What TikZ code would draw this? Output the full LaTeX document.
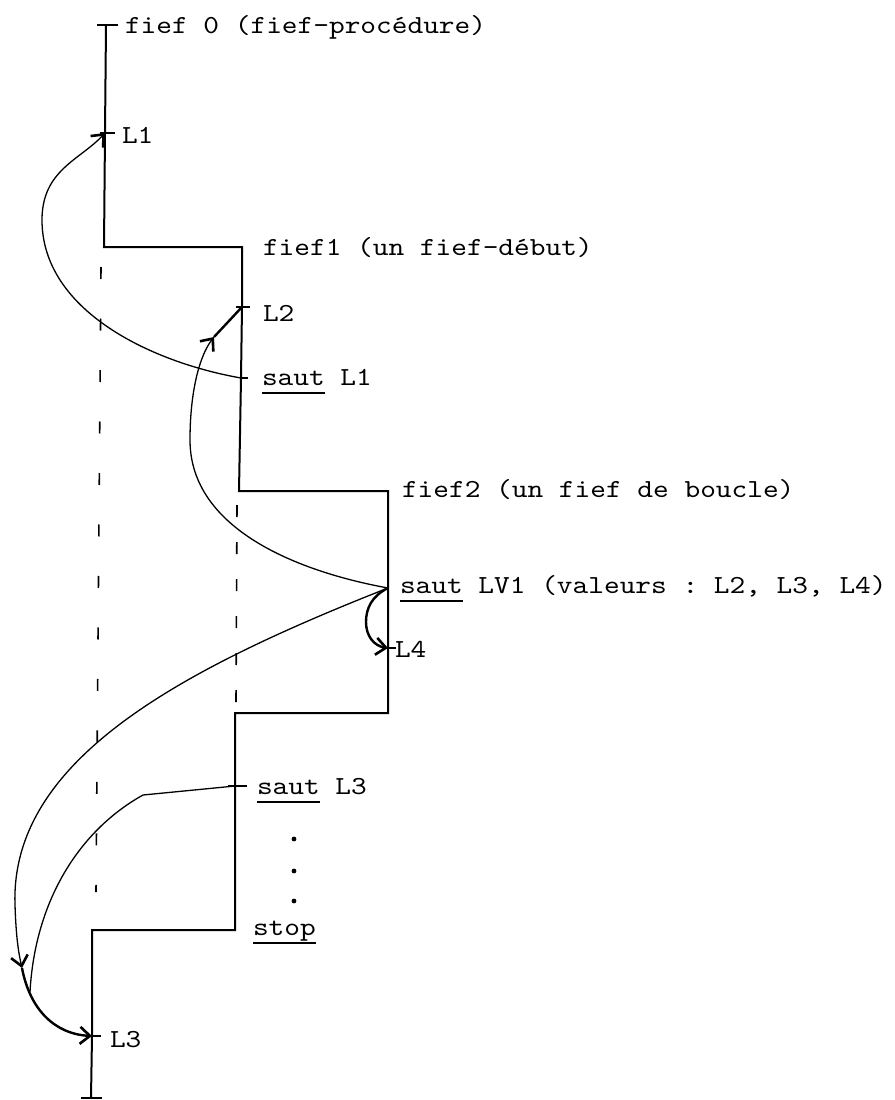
\documentclass[tikz,border=0pt]{standalone}
\usepackage{fontspec}
\newfontfamily\tw{lmmono10-regular}[Extension=.otf, FakeStretch=1.15]
\usetikzlibrary{arrows.meta}
\newcommand\tyul[1]{\setbox0\hbox{#1}\rlap{\rule[-8.5pt]{\wd0}{1.3pt}}\box0\relax}
\frenchspacing
\tikzset{
  every node/.style={inner sep=0pt, outer sep=0pt},
  lbl/.style={anchor=base west, font=\tw\fontsize{26}{30}\selectfont},
  main/.style={line width=2pt, line join=miter},
  tickline/.style={line width=2.2pt},
  curve/.style={line width=1.3pt},
  thickcurve/.style={line width=2.4pt},
  barb/.style={-{Straight Barb[length=10pt,width=17pt,line width=2.6pt]}},
  dshleft/.style={line width=1.6pt, dash pattern=on 12pt off 39.5pt},
  dshmid/.style={line width=1.6pt, dash pattern=on 12pt off 25pt},
}
\begin{document}
\begin{tikzpicture}[x=1pt,y=-1pt]
\useasboundingbox (0,0) rectangle (894,1100);
% key points of the staircase
\coordinate (top) at (106,25);
\coordinate (pL1) at (105,133);
\coordinate (c1) at (104,247);
\coordinate (c2) at (242,247);
\coordinate (pL2) at (242,307);
\coordinate (pS1) at (241,378);
\coordinate (c3) at (239,491);
\coordinate (c4) at (388,491);
\coordinate (pV) at (388,588);
\coordinate (pL4) at (388,648);
\coordinate (c5) at (388,713);
\coordinate (c6) at (235,713);
\coordinate (pS3) at (235,786);
\coordinate (c7) at (235,930);
\coordinate (c8) at (92,930);
\coordinate (pL3) at (92,1036);
\coordinate (bot) at (91,1098);
% helper points on the curves
\coordinate (m1) at (42,220);
\coordinate (m2) at (190,440);
\coordinate (a2) at (214,337);
\coordinate (m3) at (15,905);
\coordinate (a3) at (22,968);
\coordinate (k3) at (143,795);
\coordinate (j3) at (30,992);
\coordinate (m4) at (366,622);

% staircase
\draw[main] (top) -- (pL1) -- (c1) -- (c2) -- (pL2) -- (pS1) -- (c3) -- (c4)
  -- (pV) -- (pL4) -- (c5) -- (c6) -- (pS3) -- (c7) -- (c8) -- (pL3) -- (bot);

% ticks
\draw[tickline] ([xshift=-9pt]top) -- ([xshift=12pt]top);
\draw[tickline] ([xshift=-5pt]pL1) -- ([xshift=10pt]pL1);
\draw[tickline] ([xshift=-6pt]pL2) -- ([xshift=8pt]pL2);
\draw[tickline] (pS1) -- ([xshift=7pt]pS1);
\draw[tickline] ([xshift=-6pt]pL4) -- ([xshift=8pt]pL4);
\draw[tickline] ([xshift=-7pt]pS3) -- ([xshift=12pt]pS3);
\draw[tickline] ([xshift=-4pt]pL3) -- ([xshift=9pt]pL3);
\draw[tickline] ([xshift=-10pt]bot) -- ([xshift=11pt]bot);

% dashed continuations
\draw[dshleft] (101,267) -- (96,892);
\draw[dshmid] (237,505) -- (236,702);

% labels
\node[lbl] (t0) at (125,33) {fief 0 (fief-procédure)};
\node[lbl] (tL1) at (122,143) {L1};
\node[lbl] (t1) at (263,255) {fief1 (un fief-début)};
\node[lbl] (tL2) at (263,321) {L2};
\node[lbl] (tS1) at (262,385) {\tyul{saut} L1};
\node[lbl] (t2) at (402,497) {fief2 (un fief de boucle)};
\node[lbl] (tV) at (400,593) {\tyul{saut} LV1 (valeurs : L2, L3, L4)};
\node[lbl] (tL4) at (395,657) {L4};
\node[lbl] (tS3) at (257,794) {\tyul{saut} L3};
\node[lbl] (tstop) at (253,935) {\tyul{stop}};
\node[lbl] (tL3) at (110,1047) {L3};

% dots
\fill (294,839) circle (2.4pt);
\fill (294,871) circle (2.4pt);
\fill (294,901) circle (2.4pt);

% saut L1 -> L1
\draw[curve, barb] (pS1) .. controls (150,362) and (42,310) .. (m1)
  .. controls (42,170) and (80,160) .. (pL1);

% saut LV1 -> L2
\draw[curve, barb] (pV) .. controls (300,572) and (190,530) .. (m2)
  .. controls (190,390) and (200,355) .. (a2);
\draw[thickcurve] (a2) -- (pL2);

% saut LV1 -> L4
\draw[thickcurve, barb] (pV) .. controls (372,596) and (366,608) .. (m4)
  .. controls (366,636) and (374,646) .. (pL4);

% saut LV1 -> L3 (outer)
\draw[curve, barb] (pV) .. controls (180,670) and (10,760) .. (m3)
  .. controls (16,935) and (18,950) .. (a3);

% saut L3 -> L3 (inner)
\draw[curve] (pS3) -- (k3) .. controls (80,830) and (35,900) .. (j3);

% common end into L3
\draw[thickcurve, barb] (a3) .. controls (30,1010) and (55,1034) .. (pL3);
\end{tikzpicture}
\end{document}
